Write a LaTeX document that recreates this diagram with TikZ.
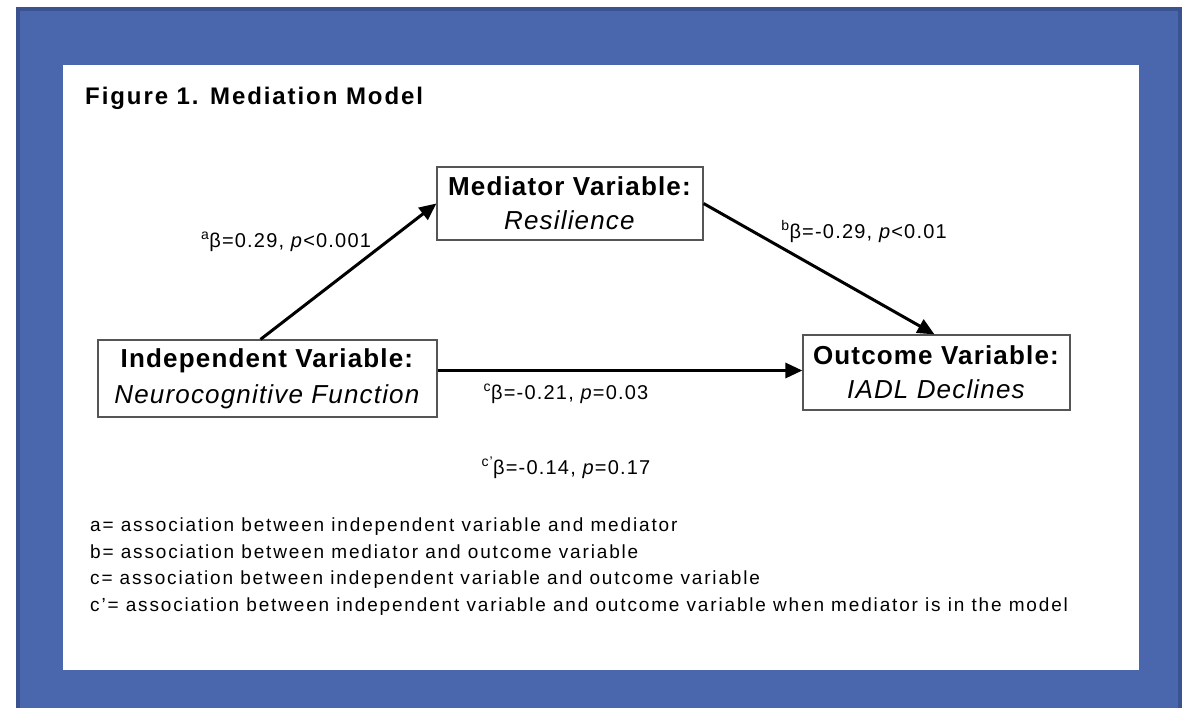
\documentclass[tikz,border=0pt]{standalone}
\usepackage{fontspec}
\setmainfont{Liberation Sans}[LetterSpace=4.5]
\newfontfamily\titlefont{Liberation Sans}[LetterSpace=8]
\newfontfamily\estfont{Liberation Sans}[LetterSpace=6]
\newfontfamily\legendfont{Liberation Sans}[LetterSpace=9.7]
\usetikzlibrary{arrows.meta}
\definecolor{frameblue}{HTML}{4A66AC}
\definecolor{frameedge}{HTML}{3A5290}
\definecolor{boxedge}{HTML}{555555}
\begin{document}
\begin{tikzpicture}
  [x=1pt,y=-1pt,
   varbox/.style={draw=boxedge,line width=1.2pt,fill=white,align=center,inner sep=0pt,font=\fontsize{26}{34}\selectfont},
   arr/.style={line width=3pt,-{Triangle[length=17pt,width=15pt]}},
   est/.style={anchor=base,font=\estfont\fontsize{20}{20}\selectfont},
   legend/.style={anchor=base west,inner sep=0pt,font=\legendfont\fontsize{19}{20}\selectfont}]
  \useasboundingbox (0,0) rectangle (1185,707);
  % frame and panel
  \fill[white] (0,0) rectangle (1185,707);
  \draw[fill=frameblue,draw=frameedge,line width=4pt] (18,9) rectangle (1180,712);
  \fill[white] (63,65) rectangle (1139,670);
  \node[anchor=base west,inner sep=0pt,font=\titlefont\fontsize{24}{26}\selectfont\bfseries] (title) at (85,104) {Figure 1. Mediation Model};

  % variables
  \node[varbox,minimum width=266pt,minimum height=73pt] (med) at (570,203.5)
    {\textbf{Mediator Variable:}\\\textit{Resilience}};
  \node[varbox,minimum width=339pt,minimum height=77pt,font=\fontsize{26}{36}\selectfont] (ind) at (267.5,378.5)
    {\textbf{Independent Variable:}\\\textit{Neurocognitive Function}};
  \node[varbox,minimum width=267pt,minimum height=75pt] (out) at (936.5,372.5)
    {\textbf{Outcome Variable:}\\\textit{IADL Declines}};

  % paths
  \draw[arr] ([xshift=-7pt]ind.north) -- (med.west);
  \draw[arr] (med.east) -- ([xshift=-2pt]out.north);
  \draw[arr] ([yshift=8pt]ind.east) -- ([yshift=2pt]out.west);

  % estimates
  \node[est] (esta) at (286,247) {\textsuperscript{a}β=0.29, \textit{p}<0.001};
  \node[est] (estb) at (864,238) {\textsuperscript{b}β=-0.29, \textit{p}<0.01};
  \node[est] (estc) at (566,399) {\textsuperscript{c}β=-0.21, \textit{p}=0.03};
  \node[est] (estcp) at (566,474) {\textsuperscript{c’}β=-0.14, \textit{p}=0.17};

  % legend
  \foreach \y/\txt in {531/{a= association between independent variable and mediator},
                       558/{b= association between mediator and outcome variable},
                       584/{c= association between independent variable and outcome variable},
                       611/{c’= association between independent variable and outcome variable when mediator is in the model}}
    \node[legend] at (90,\y) {\txt};
\end{tikzpicture}
\end{document}
